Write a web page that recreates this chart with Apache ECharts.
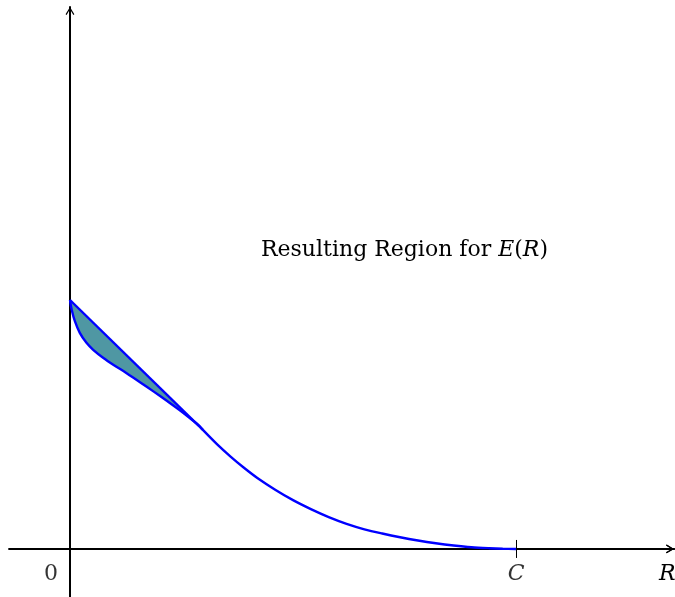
<!DOCTYPE html>
<html><head><meta charset="utf-8">
<script src="https://cdn.jsdelivr.net/npm/echarts@6/dist/echarts.min.js"></script>
<style>html,body{margin:0;padding:0;background:#fff}#c{width:675px;height:597px}</style>
</head><body><div id="c"></div>
<script>
// Straight upper boundary of the region (from E(0) to the junction)
const upperX = [0, 0.298];
const upperY = [1, 0.478];
// Lower curved boundary of the region
const lowerX = [0, 0.004, 0.011, 0.022, 0.037, 0.052, 0.075, 0.097, 0.127, 0.157, 0.187, 0.217, 0.247, 0.272, 0.290, 0.298];
const lowerY = [1, 0.960, 0.915, 0.868, 0.828, 0.800, 0.767, 0.740, 0.706, 0.670, 0.633, 0.595, 0.556, 0.521, 0.494, 0.478];
// Curve from the junction down to C
const curveX = [0.298, 0.33, 0.36, 0.39, 0.42, 0.46, 0.50, 0.54, 0.58, 0.62, 0.66, 0.70, 0.74, 0.78, 0.82, 0.86, 0.90, 0.94, 0.97, 1.0];
const curveY = [0.478, 0.420, 0.371, 0.326, 0.285, 0.238, 0.196, 0.160, 0.128, 0.101, 0.079, 0.062, 0.047, 0.034, 0.023, 0.014, 0.007, 0.003, 0.001, 0];
// Tick / label texts
const xTickValues = [1];
const axisMarkX = [0, 1];
const axisMarkLabels = ['0', 'C'];
const xAxisName = 'R';
const annotationText = '{n|Resulting Region for }{i|E}{n|(}{i|R}{n|)}';

const FONT = 'DejaVu Serif';
const FS = 22;
const arrowPath = 'path://M0,10 L6,0 L12,10 L10.6,10.9 L6,3.2 L1.4,10.9 Z';

const regionPts = upperX.map((x, i) => [x, upperY[i]])
  .concat(lowerX.map((x, i) => [x, lowerY[i]]).reverse());
const boundaryPts = lowerX.map((x, i) => [x, lowerY[i]])
  .concat(curveX.slice(1).map((x, i) => [x, curveY[i + 1]]));
const upperPts = upperX.map((x, i) => [x, upperY[i]]);

const axisLineCommon = {
  show: true, onZero: true, onZeroAxisIndex: 0,
  lineStyle: { color: '#000', width: 2 },
  symbol: ['none', arrowPath], symbolSize: [12, 8], symbolOffset: [0, -4]
};

const labelData = axisMarkX.map((x, i) => ({
  value: [x, 0],
  name: axisMarkLabels[i],
  label: {
    offset: axisMarkLabels[i] === '0' ? [-19, 0] : [0, 0],
    fontStyle: axisMarkLabels[i] === '0' ? 'normal' : 'italic',
    color: '#000'
  }
}));

const chart = echarts.init(document.getElementById('c'), null, { renderer: 'canvas' });
chart.setOption({
  animation: false,
  backgroundColor: '#fff',
  title: {
    text: annotationText,
    left: 261, top: 239, padding: 0,
    textStyle: {
      fontWeight: 'normal',
      rich: {
        n: { fontFamily: FONT, fontSize: FS, fontWeight: 'normal', color: '#000' },
        i: { fontFamily: FONT, fontSize: FS, fontWeight: 'normal', fontStyle: 'italic', color: '#000' }
      }
    }
  },
  grid: { left: 9.3, top: 7, width: 664.7, height: 590, containLabel: false, outerBoundsMode: 'none' },
  xAxis: [{
    type: 'value', min: -0.136, max: 1.354, position: 'bottom',
    splitLine: { show: false },
    axisLine: axisLineCommon,
    axisTick: { show: true, customValues: xTickValues, length: 9, inside: false, lineStyle: { color: '#000', width: 1 } },
    axisLabel: { show: false },
    name: xAxisName, nameLocation: 'end', nameGap: -15,
    nameTextStyle: { fontFamily: FONT, fontSize: FS, fontStyle: 'italic', color: '#000', verticalAlign: 'top', padding: [14, 0, 0, 0] }
  }, {
    type: 'value', min: -0.136, max: 1.354, position: 'bottom',
    splitLine: { show: false },
    axisLine: axisLineCommon,
    axisTick: { show: true, customValues: xTickValues, length: 9, inside: true, lineStyle: { color: '#000', width: 1 } },
    axisLabel: { show: false }
  }],
  yAxis: {
    type: 'value', min: -0.193, max: 2.177,
    splitLine: { show: false },
    axisLine: {
      show: true, onZero: true, onZeroAxisIndex: 0,
      lineStyle: { color: '#000', width: 2 },
      symbol: ['none', arrowPath], symbolSize: [12, 8], symbolOffset: [0, -4]
    },
    axisTick: { show: false },
    axisLabel: { show: false }
  },
  series: [{
    type: 'custom',
    xAxisIndex: 0, yAxisIndex: 0,
    data: regionPts,
    silent: true,
    clip: false,
    renderItem: (params, api) => {
      if (params.dataIndex !== 0) return null;
      return {
        type: 'polygon',
        shape: { points: regionPts.map(p => api.coord(p)) },
        style: { fill: '#4f97a3', stroke: 'none' }
      };
    },
    z: 1
  }, {
    type: 'line', data: upperPts, symbol: 'none', smooth: false,
    lineStyle: { color: '#0000ff', width: 2.4 }, z: 3
  }, {
    type: 'line', data: boundaryPts, symbol: 'none', smooth: 0.3,
    lineStyle: { color: '#0000ff', width: 2.4 }, z: 3
  }, {
    type: 'scatter', data: labelData, symbolSize: 0, silent: true, z: 4,
    label: {
      show: true, position: 'bottom', distance: 14,
      formatter: p => p.name,
      fontFamily: FONT, fontSize: FS, color: '#000'
    }
  }]
});
</script>
</body></html>
